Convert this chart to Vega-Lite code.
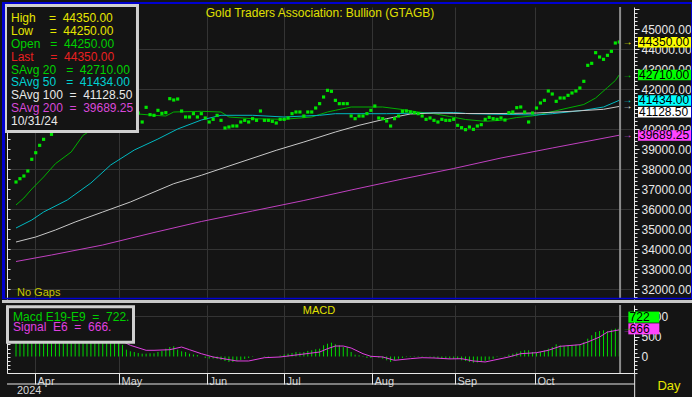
{
  "$schema": "https://vega.github.io/schema/vega-lite/v6.json",
  "background": "#141414",
  "padding": 0,
  "bounds": "flush",
  "spacing": 6,
  "resolve": {"scale": {"color": "independent", "fill": "independent", "stroke": "independent", "x": "independent", "y": "independent"}},
  "config": {
    "view": {"stroke": null},
    "font": "Liberation Sans",
    "axis": {"title": null, "gridColor": "#343434", "gridWidth": 1, "domainColor": "#e8e8e8", "tickColor": "#e8e8e8", "labelColor": "#e8e8e8", "labelFont": "Liberation Sans"},
    "text": {"font": "Liberation Sans"}
  },
  "datasets": {
    "price": [
      {"i":0,"v":37350},{"i":1,"v":37515},{"i":2,"v":37650},{"i":3,"v":37900},{"i":4,"v":38485},{"i":5,"v":38815},{"i":6,"v":39183},{"i":7,"v":39483},{"i":8,"v":39900},{"i":9,"v":39733},
      {"i":10,"v":40200},{"i":11,"v":40500},{"i":12,"v":40900},{"i":13,"v":41300},{"i":14,"v":41600},{"i":15,"v":41500},{"i":16,"v":41900},{"i":17,"v":41700},{"i":18,"v":41400},{"i":19,"v":41000},
      {"i":20,"v":41200},{"i":21,"v":40800},{"i":22,"v":41000},{"i":23,"v":41100},{"i":24,"v":40900},{"i":25,"v":40700},{"i":26,"v":40600},{"i":27,"v":40800},{"i":28,"v":40900},{"i":29,"v":41100},
      {"i":30,"v":41000},{"i":31,"v":40800},{"i":32,"v":40350},{"i":33,"v":41083},{"i":34,"v":40717},{"i":35,"v":40683},{"i":36,"v":40933},{"i":37,"v":40783},{"i":38,"v":40817},{"i":39,"v":41517},
      {"i":40,"v":41450},{"i":41,"v":41500},{"i":42,"v":40900},{"i":43,"v":40600},{"i":44,"v":40600},{"i":45,"v":40767},{"i":46,"v":40600},{"i":47,"v":40767},{"i":48,"v":40550},{"i":49,"v":40350},
      {"i":50,"v":40483},{"i":51,"v":40683},{"i":52,"v":40433},{"i":53,"v":40050},{"i":54,"v":40100},{"i":55,"v":40150},{"i":56,"v":40150},{"i":57,"v":40350},{"i":58,"v":40433},{"i":59,"v":40350},
      {"i":60,"v":40517},{"i":61,"v":40433},{"i":62,"v":40900},{"i":63,"v":40433},{"i":64,"v":40433},{"i":65,"v":40383},{"i":66,"v":40300},{"i":67,"v":40483},{"i":68,"v":40483},{"i":69,"v":40550},
      {"i":70,"v":40767},{"i":71,"v":40850},{"i":72,"v":40850},{"i":73,"v":40650},{"i":74,"v":40850},{"i":75,"v":40850},{"i":76,"v":41050},{"i":77,"v":41267},{"i":78,"v":41600},{"i":79,"v":41933},
      {"i":80,"v":41883},{"i":81,"v":41433},{"i":82,"v":41267},{"i":83,"v":41267},{"i":84,"v":41267},{"i":85,"v":40650},{"i":86,"v":40517},{"i":87,"v":40650},{"i":88,"v":40650},{"i":89,"v":40767},
      {"i":90,"v":40933},{"i":91,"v":41150},{"i":92,"v":40550},{"i":93,"v":40517},{"i":94,"v":40400},{"i":95,"v":40150},{"i":96,"v":40517},{"i":97,"v":40650},{"i":98,"v":40883},{"i":99,"v":40900},
      {"i":100,"v":40850},{"i":101,"v":40817},{"i":102,"v":40767},{"i":103,"v":40650},{"i":104,"v":40483},{"i":105,"v":40550},{"i":106,"v":40433},{"i":107,"v":40350},{"i":108,"v":40483},{"i":109,"v":40433},
      {"i":110,"v":40433},{"i":111,"v":40483},{"i":112,"v":40183},{"i":113,"v":40067},{"i":114,"v":39967},{"i":115,"v":40100},{"i":116,"v":39983},{"i":117,"v":40150},{"i":118,"v":40217},{"i":119,"v":40483},
      {"i":120,"v":40583},{"i":121,"v":40517},{"i":122,"v":40483},{"i":123,"v":40550},{"i":124,"v":40450},{"i":125,"v":40817},{"i":126,"v":40850},{"i":127,"v":41067},{"i":128,"v":41100},{"i":129,"v":40850},
      {"i":130,"v":40350},{"i":131,"v":40800},{"i":132,"v":41050},{"i":133,"v":41300},{"i":134,"v":41433},{"i":135,"v":41900},{"i":136,"v":41750},{"i":137,"v":41383},{"i":138,"v":41550},{"i":139,"v":41550},
      {"i":140,"v":41683},{"i":141,"v":41800},{"i":142,"v":41900},{"i":143,"v":42050},{"i":144,"v":42383},{"i":145,"v":43183},{"i":146,"v":43283},{"i":147,"v":43817},{"i":148,"v":43600},{"i":149,"v":43483},
      {"i":150,"v":43683},{"i":151,"v":43883},{"i":152,"v":44300},{"i":153,"v":44350}
    ],
    "ma": [
      {"s":"SAvg 20","i":0,"v":36200},{"s":"SAvg 20","i":2,"v":36550},{"s":"SAvg 20","i":4,"v":37000},{"s":"SAvg 20","i":7,"v":37600},{"s":"SAvg 20","i":10,"v":38265},{"s":"SAvg 20","i":14,"v":38850},{"s":"SAvg 20","i":17,"v":39685},{"s":"SAvg 20","i":20,"v":40050},{"s":"SAvg 20","i":22,"v":40300},{"s":"SAvg 20","i":25,"v":40550},{"s":"SAvg 20","i":28,"v":40700},{"s":"SAvg 20","i":31,"v":40750},{"s":"SAvg 20","i":35,"v":40685},{"s":"SAvg 20","i":38,"v":40650},{"s":"SAvg 20","i":40,"v":40850},{"s":"SAvg 20","i":47,"v":40885},{"s":"SAvg 20","i":52,"v":40850},{"s":"SAvg 20","i":54,"v":40600},{"s":"SAvg 20","i":60,"v":40515},{"s":"SAvg 20","i":68,"v":40485},{"s":"SAvg 20","i":75,"v":40600},{"s":"SAvg 20","i":79,"v":40850},{"s":"SAvg 20","i":81,"v":40935},{"s":"SAvg 20","i":85,"v":41100},{"s":"SAvg 20","i":93,"v":41100},{"s":"SAvg 20","i":98,"v":40975},{"s":"SAvg 20","i":102,"v":40850},{"s":"SAvg 20","i":106,"v":40765},{"s":"SAvg 20","i":110,"v":40625},{"s":"SAvg 20","i":114,"v":40475},{"s":"SAvg 20","i":119,"v":40385},{"s":"SAvg 20","i":123,"v":40435},{"s":"SAvg 20","i":127,"v":40575},{"s":"SAvg 20","i":131,"v":40650},{"s":"SAvg 20","i":135,"v":40825},{"s":"SAvg 20","i":140,"v":41050},{"s":"SAvg 20","i":144,"v":41225},{"s":"SAvg 20","i":147,"v":41550},{"s":"SAvg 20","i":150,"v":42075},{"s":"SAvg 20","i":152,"v":42425},{"s":"SAvg 20","i":153,"v":42710},
      {"s":"SAvg 50","i":0,"v":35050},{"s":"SAvg 50","i":4,"v":35450},{"s":"SAvg 50","i":7,"v":35850},{"s":"SAvg 50","i":13,"v":36450},{"s":"SAvg 50","i":19,"v":37300},{"s":"SAvg 50","i":24,"v":38200},{"s":"SAvg 50","i":30,"v":38950},{"s":"SAvg 50","i":36,"v":39500},{"s":"SAvg 50","i":41,"v":40000},{"s":"SAvg 50","i":47,"v":40450},{"s":"SAvg 50","i":52,"v":40685},{"s":"SAvg 50","i":60,"v":40685},{"s":"SAvg 50","i":68,"v":40600},{"s":"SAvg 50","i":77,"v":40685},{"s":"SAvg 50","i":81,"v":40765},{"s":"SAvg 50","i":94,"v":40765},{"s":"SAvg 50","i":111,"v":40825},{"s":"SAvg 50","i":115,"v":40765},{"s":"SAvg 50","i":132,"v":40700},{"s":"SAvg 50","i":136,"v":40765},{"s":"SAvg 50","i":140,"v":40850},{"s":"SAvg 50","i":144,"v":40935},{"s":"SAvg 50","i":149,"v":41100},{"s":"SAvg 50","i":153,"v":41434},
      {"s":"SAvg 100","i":0,"v":34350},{"s":"SAvg 100","i":5,"v":34600},{"s":"SAvg 100","i":10,"v":34950},{"s":"SAvg 100","i":15,"v":35350},{"s":"SAvg 100","i":22,"v":35850},{"s":"SAvg 100","i":29,"v":36350},{"s":"SAvg 100","i":35,"v":36850},{"s":"SAvg 100","i":40,"v":37265},{"s":"SAvg 100","i":47,"v":37685},{"s":"SAvg 100","i":52,"v":38015},{"s":"SAvg 100","i":66,"v":38935},{"s":"SAvg 100","i":73,"v":39350},{"s":"SAvg 100","i":81,"v":39850},{"s":"SAvg 100","i":87,"v":40185},{"s":"SAvg 100","i":94,"v":40515},{"s":"SAvg 100","i":100,"v":40750},{"s":"SAvg 100","i":106,"v":40800},{"s":"SAvg 100","i":114,"v":40775},{"s":"SAvg 100","i":123,"v":40775},{"s":"SAvg 100","i":132,"v":40800},{"s":"SAvg 100","i":140,"v":40875},{"s":"SAvg 100","i":149,"v":40985},{"s":"SAvg 100","i":153,"v":41128.5},
      {"s":"SAvg 200","i":0,"v":33375},{"s":"SAvg 200","i":9,"v":33700},{"s":"SAvg 200","i":22,"v":34200},{"s":"SAvg 200","i":35,"v":34825},{"s":"SAvg 200","i":47,"v":35375},{"s":"SAvg 200","i":60,"v":35900},{"s":"SAvg 200","i":73,"v":36425},{"s":"SAvg 200","i":85,"v":36950},{"s":"SAvg 200","i":98,"v":37500},{"s":"SAvg 200","i":111,"v":38025},{"s":"SAvg 200","i":123,"v":38550},{"s":"SAvg 200","i":136,"v":39050},{"s":"SAvg 200","i":153,"v":39689.25}
    ],
    "legend": [
      {"s":"High","t":"High\u00a0\u00a0\u00a0\u00a0=\u00a0\u00a044350.00"},
      {"s":"Low","t":"Low\u00a0\u00a0\u00a0\u00a0\u00a0=\u00a0\u00a044250.00"},
      {"s":"Open","t":"Open\u00a0\u00a0\u00a0=\u00a0\u00a044250.00"},
      {"s":"Last","t":"Last\u00a0\u00a0\u00a0\u00a0\u00a0=\u00a0\u00a044350.00"},
      {"s":"SAvg 20","t":"SAvg\u00a020\u00a0\u00a0\u00a0=\u00a0\u00a042710.00"},
      {"s":"SAvg 50","t":"SAvg\u00a050\u00a0\u00a0\u00a0=\u00a0\u00a041434.00"},
      {"s":"SAvg 100","t":"SAvg\u00a0100\u00a0\u00a0=\u00a0\u00a041128.50"},
      {"s":"SAvg 200","t":"SAvg\u00a0200\u00a0\u00a0=\u00a0\u00a039689.25"},
      {"s":"Date","t":"10/31/24"}
    ],
    "boxes": [
      {"s":"Price","v":44350,"t":"44350.00"},
      {"s":"SAvg 20","v":42710,"t":"42710.00"},
      {"s":"SAvg 50","v":41434,"t":"41434.00"},
      {"s":"SAvg 100","v":41128.5,"t":"41128.50"},
      {"s":"SAvg 200","v":39689.25,"t":"39689.25"}
    ],
    "macd": [
      {"i":0,"m":420},{"i":1,"m":470},{"i":2,"m":520},{"i":3,"m":580},{"i":4,"m":650},{"i":5,"m":720},{"i":6,"m":790},{"i":7,"m":850},{"i":8,"m":900},{"i":9,"m":930},
      {"i":10,"m":960},{"i":11,"m":990},{"i":12,"m":1010},{"i":13,"m":1030},{"i":14,"m":1020},{"i":15,"m":990},{"i":16,"m":960},{"i":17,"m":920},{"i":18,"m":870},{"i":19,"m":820},
      {"i":20,"m":760},{"i":21,"m":700},{"i":22,"m":640},{"i":23,"m":570},{"i":24,"m":500},{"i":25,"m":430},{"i":26,"m":360},{"i":27,"m":290},{"i":28,"m":170},{"i":29,"m":130},
      {"i":30,"m":112},{"i":31,"m":87},{"i":32,"m":70},{"i":33,"m":70},{"i":34,"m":80},{"i":35,"m":80},{"i":36,"m":112},{"i":37,"m":137},{"i":38,"m":195},{"i":39,"m":237},
      {"i":40,"m":255},{"i":41,"m":170},{"i":42,"m":130},{"i":43,"m":112},{"i":44,"m":70},{"i":45,"m":50},{"i":46,"m":37},{"i":47,"m":0},{"i":48,"m":-37},{"i":49,"m":-50},
      {"i":50,"m":-50},{"i":51,"m":-62},{"i":52,"m":-87},{"i":53,"m":-112},{"i":54,"m":-137},{"i":55,"m":-137},{"i":56,"m":-112},{"i":57,"m":-87},{"i":58,"m":-62},{"i":59,"m":-37},
      {"i":60,"m":-12},{"i":61,"m":0},{"i":62,"m":0},{"i":63,"m":-12},{"i":64,"m":-12},{"i":65,"m":0},{"i":66,"m":0},{"i":67,"m":25},{"i":68,"m":50},{"i":69,"m":70},
      {"i":70,"m":87},{"i":71,"m":112},{"i":72,"m":100},{"i":73,"m":112},{"i":74,"m":140},{"i":75,"m":155},{"i":76,"m":180},{"i":77,"m":195},{"i":78,"m":280},{"i":79,"m":320},
      {"i":80,"m":345},{"i":81,"m":305},{"i":82,"m":280},{"i":83,"m":237},{"i":84,"m":237},{"i":85,"m":112},{"i":86,"m":45},{"i":87,"m":30},{"i":88,"m":-12},{"i":89,"m":-37},
      {"i":90,"m":-37},{"i":91,"m":12},{"i":92,"m":-30},{"i":93,"m":-55},{"i":94,"m":-95},{"i":95,"m":-137},{"i":96,"m":-95},{"i":97,"m":-55},{"i":98,"m":-37},{"i":99,"m":-12},
      {"i":100,"m":12},{"i":101,"m":-12},{"i":102,"m":-12},{"i":103,"m":-12},{"i":104,"m":5},{"i":105,"m":-12},{"i":106,"m":-30},{"i":107,"m":-37},{"i":108,"m":-55},{"i":109,"m":-55},
      {"i":110,"m":-55},{"i":111,"m":-55},{"i":112,"m":-60},{"i":113,"m":-95},{"i":114,"m":-110},{"i":115,"m":-137},{"i":116,"m":-155},{"i":117,"m":-150},{"i":118,"m":-137},{"i":119,"m":-110},
      {"i":120,"m":-80},{"i":121,"m":-55},{"i":122,"m":-12},{"i":123,"m":5},{"i":124,"m":12},{"i":125,"m":45},{"i":126,"m":70},{"i":127,"m":95},{"i":128,"m":130},{"i":129,"m":155},
      {"i":130,"m":155},{"i":131,"m":112},{"i":132,"m":95},{"i":133,"m":112},{"i":134,"m":155},{"i":135,"m":195},{"i":136,"m":237},{"i":137,"m":305},{"i":138,"m":280},{"i":139,"m":262},
      {"i":140,"m":280},{"i":141,"m":285},{"i":142,"m":295},{"i":143,"m":305},{"i":144,"m":362},{"i":145,"m":445},{"i":146,"m":530},{"i":147,"m":612},{"i":148,"m":637},{"i":149,"m":655},
      {"i":150,"m":630},{"i":151,"m":670},{"i":152,"m":695},{"i":153,"m":722}
    ],
    "signal": [
      {"i":0,"g":350},{"i":5,"g":560},{"i":10,"g":760},{"i":15,"g":880},{"i":20,"g":780},{"i":25,"g":480},{"i":29,"g":280},{"i":33,"g":155},{"i":35,"g":155},{"i":39,"g":170},
      {"i":42,"g":237},{"i":44,"g":170},{"i":47,"g":70},{"i":50,"g":-12},{"i":56,"g":-112},{"i":59,"g":-112},{"i":63,"g":-30},{"i":67,"g":-12},{"i":72,"g":50},{"i":77,"g":112},
      {"i":79,"g":195},{"i":81,"g":262},{"i":83,"g":262},{"i":85,"g":212},{"i":88,"g":70},{"i":90,"g":5},{"i":93,"g":-12},{"i":96,"g":-95},{"i":100,"g":-55},{"i":103,"g":-30},
      {"i":106,"g":-37},{"i":110,"g":-60},{"i":113,"g":-55},{"i":116,"g":-112},{"i":119,"g":-137},{"i":121,"g":-95},{"i":125,"g":-12},{"i":128,"g":70},{"i":132,"g":95},{"i":135,"g":155},
      {"i":138,"g":255},{"i":143,"g":295},{"i":145,"g":362},{"i":148,"g":487},{"i":150,"g":612},{"i":153,"g":666}
    ],
    "mlegend": [
      {"s":"Macd","t":"Macd\u00a0E19-E9\u00a0\u00a0=\u00a0\u00a0722."},
      {"s":"Signal","t":"Signal\u00a0\u00a0E6\u00a0\u00a0=\u00a0\u00a0666."}
    ],
    "mboxes": [
      {"s":"Macd","v":722,"t":"722"},
      {"s":"Signal","v":666,"t":"666"}
    ]
  },
  "vconcat": [
    {
      "width": 627,
      "height": 292,
      "resolve": {"axis": {"y": "independent", "x": "independent"}},
      "layer": [
        {
          "data": {"name": "ma"},
          "mark": {"type": "line", "strokeWidth": 1},
          "encoding": {
            "x": {"field": "i", "type": "quantitative", "scale": {"domain": [-2.2825, 156.73], "nice": false, "zero": false},
              "axis": {"orient": "bottom", "values": [4.82, 26.12, 48.44, 67.97, 90.29, 111.34, 131.63], "labels": false, "ticks": false, "domain": false, "grid": true}},
            "y": {"field": "v", "type": "quantitative", "scale": {"domain": [31500, 46100], "nice": false, "zero": false},
              "axis": {"orient": "left", "labels": false, "grid": false, "tickSize": -3, "values": [32000,32500,33000,33500,34000,34500,35000,35500,36000,36500,37000,37500,38000,38500,39000,39500,40000,40500,41000,41500,42000,42500,43000,43500,44000,44500,45000,45500,46000]}},
            "stroke": {"field": "s", "type": "nominal", "scale": {"domain": ["SAvg 20", "SAvg 50", "SAvg 100", "SAvg 200"], "range": ["#00b000", "#00b8c0", "#c8c8c8", "#c040c0"]}, "legend": null}
          }
        },
        {
          "data": {"name": "price"},
          "mark": {"type": "square", "size": 10, "filled": true, "color": "#00e600", "opacity": 1},
          "encoding": {
            "x": {"field": "i", "type": "quantitative", "axis": null},
            "y": {"field": "v", "type": "quantitative",
              "axis": {"orient": "right", "values": [31600,31800,32000,32200,32400,32600,32800,33000,33200,33400,33600,33800,34000,34200,34400,34600,34800,35000,35200,35400,35600,35800,36000,36200,36400,36600,36800,37000,37200,37400,37600,37800,38000,38200,38400,38600,38800,39000,39200,39400,39600,39800,40000,40200,40400,40600,40800,41000,41200,41400,41600,41800,42000,42200,42400,42600,42800,43000,43200,43400,43600,43800,44000,44200,44400,44600,44800,45000,45200,45400,45600,45800,46000],
                "labelExpr": "datum.value % 1000 == 0 && datum.value < 46000 && datum.value != 41000 ? format(datum.value, '.2f') : ''", "labelOverlap": false, "labelFontSize": 12, "labelPadding": 2,
                "tickSize": {"condition": {"test": "datum.value % 1000 == 0", "value": 5}, "value": 3},
                "grid": true, "gridOpacity": {"condition": {"test": "datum.value % 2000 == 0 && datum.value < 46000", "value": 1}, "value": 0}}}
          }
        },
        {
          "data": {"values": [{}]},
          "mark": {"type": "rule", "color": "#8c8c8c", "strokeWidth": 2},
          "encoding": {"x": {"datum": 153.2, "type": "quantitative", "axis": null}, "y": {"datum": 46100, "type": "quantitative", "axis": null}, "y2": {"datum": 31500}}
        },
        {
          "data": {"values": [{}]},
          "mark": {"type": "rect", "fill": "#141414", "stroke": "#d0d0d0", "strokeWidth": 3, "clip": false},
          "encoding": {"x": {"datum": -2.663, "type": "quantitative", "axis": null}, "x2": {"datum": 30.81}, "y": {"datum": 46175, "type": "quantitative", "axis": null}, "y2": {"datum": 39875}}
        },
        {
          "data": {"name": "legend"},
          "transform": [{"window": [{"op": "row_number", "as": "k"}]}],
          "mark": {"type": "text", "align": "left", "baseline": "middle", "fontSize": 12, "clip": false, "yOffset": {"expr": "(datum.k - 1) * 12.95"}},
          "encoding": {
            "x": {"datum": -1.268, "type": "quantitative", "axis": null},
            "y": {"datum": 45565, "type": "quantitative", "axis": null},
            "text": {"field": "t"},
            "color": {"field": "s", "type": "nominal", "scale": {"domain": ["High", "Low", "Open", "Last", "SAvg 20", "SAvg 50", "SAvg 100", "SAvg 200", "Date", "Price"], "range": ["#e6e600", "#e6e600", "#00d000", "#e82020", "#00d000", "#00d0d0", "#e8e8e8", "#d848d8", "#e8e8e8", "#f0f000"]}, "legend": null}
          }
        },
        {
          "data": {"values": [{"t": "Gold Traders Association: Bullion (GTAGB)"}]},
          "mark": {"type": "text", "align": "center", "baseline": "middle", "fontSize": 12, "color": "#e0e000", "clip": false},
          "encoding": {"x": {"datum": 77.1, "type": "quantitative", "axis": null}, "y": {"datum": 45800, "type": "quantitative", "axis": null}, "text": {"field": "t"}}
        },
        {
          "data": {"values": [{"t": "No Gaps"}]},
          "mark": {"type": "text", "align": "left", "baseline": "middle", "fontSize": 11, "color": "#c8c800", "clip": false},
          "encoding": {"x": {"datum": 0.254, "type": "quantitative", "axis": null}, "y": {"datum": 31800, "type": "quantitative", "axis": null}, "text": {"field": "t"}}
        },
        {
          "data": {"values": [{}]},
          "mark": {"type": "rule", "color": "#0000d0", "strokeWidth": 2, "clip": false},
          "encoding": {"x": {"datum": -3.551, "type": "quantitative", "axis": null}, "x2": {"datum": 171.95}, "y": {"datum": 46300, "type": "quantitative", "axis": null}}
        },
        {
          "data": {"values": [{}]},
          "mark": {"type": "rule", "color": "#0000d0", "strokeWidth": 3, "clip": false},
          "encoding": {"x": {"datum": -3.17, "type": "quantitative", "axis": null}, "y": {"datum": 46350, "type": "quantitative", "axis": null}, "y2": {"datum": 31500}}
        },
        {
          "data": {"values": [{}]},
          "mark": {"type": "rule", "color": "#0000d0", "strokeWidth": 3, "clip": false},
          "encoding": {"x": {"datum": 171.57, "type": "quantitative", "axis": null}, "y": {"datum": 46350, "type": "quantitative", "axis": null}, "y2": {"datum": 31500}}
        },
        {
          "data": {"values": [{}]},
          "mark": {"type": "rule", "color": "#0000d0", "strokeWidth": 1.5, "clip": false},
          "encoding": {"x": {"datum": -3.551, "type": "quantitative", "axis": null}, "x2": {"datum": 171.95}, "y": {"datum": 31525, "type": "quantitative", "axis": null}}
        },
        {
          "data": {"values": [{}]},
          "mark": {"type": "rule", "color": "#c8c8c8", "strokeWidth": 3, "clip": false},
          "encoding": {"x": {"datum": -3.551, "type": "quantitative", "axis": null}, "x2": {"datum": 171.95}, "y": {"datum": 31375, "type": "quantitative", "axis": null}}
        },
        {
          "data": {"name": "boxes"},
          "mark": {"type": "rect", "clip": false, "yOffset": {"expr": "datum.s == 'SAvg 100' ? 0.5 : -5"}, "y2Offset": {"expr": "datum.s == 'SAvg 100' ? 11 : 5.5"}},
          "encoding": {
            "x": {"datum": 157.75, "type": "quantitative", "axis": null}, "x2": {"datum": 171.19},
            "y": {"field": "v", "type": "quantitative", "axis": null}, "y2": {"field": "v"},
            "fill": {"field": "s", "type": "nominal", "scale": {"domain": ["Price", "SAvg 20", "SAvg 50", "SAvg 100", "SAvg 200"], "range": ["#ffff00", "#00ff00", "#00ffff", "#ffffff", "#ff44ff"]}, "legend": null}
          }
        },
        {
          "data": {"name": "boxes"},
          "mark": {"type": "text", "align": "left", "baseline": "middle", "fontSize": 12, "color": "#000000", "clip": false, "yOffset": {"expr": "datum.s == 'SAvg 100' ? 5.5 : 0"}},
          "encoding": {"x": {"datum": 158.0, "type": "quantitative", "axis": null}, "y": {"field": "v", "type": "quantitative", "axis": null}, "text": {"field": "t"}}
        },
        {
          "data": {"name": "boxes"},
          "mark": {"type": "text", "align": "center", "baseline": "middle", "fontSize": 10, "clip": false},
          "encoding": {"x": {"datum": 155.1, "type": "quantitative", "axis": null}, "y": {"field": "v", "type": "quantitative", "axis": null}, "text": {"value": "→"}, "color": {"field": "s", "type": "nominal", "legend": null}}
        }
      ]
    },
    {
      "width": 627,
      "height": 68,
      "resolve": {"axis": {"y": "independent", "x": "independent"}},
      "layer": [
        {
          "data": {"name": "macd"},
          "mark": {"type": "rule", "color": "#00d800", "strokeWidth": 1},
          "encoding": {
            "x": {"field": "i", "type": "quantitative", "scale": {"domain": [-2.2825, 156.73], "nice": false, "zero": false},
              "axis": {"orient": "bottom", "values": [4.82, 26.12, 48.44, 67.97, 90.29, 111.34, 131.63],
                "labelExpr": "datum.value < 10 ? 'Apr' : datum.value < 30 ? 'May' : datum.value < 50 ? 'Jun' : datum.value < 70 ? 'Jul' : datum.value < 100 ? 'Aug' : datum.value < 120 ? 'Sep' : 'Oct'",
                "tickSize": 11, "labelAlign": "left", "labelBaseline": "top", "labelPadding": -9, "labelOffset": 2, "labelFontSize": 11, "labelColor": "#d8d8d8", "labelFlush": false, "labelOverlap": false, "grid": true}},
            "y": {"field": "m", "type": "quantitative", "scale": {"domain": [-412.5, 1287.5], "nice": false, "zero": false},
              "axis": {"orient": "right", "values": [-400,-300,-200,-100,0,100,200,300,400,500,600,700,800,900,1000,1100,1200],
                "labelExpr": "datum.value % 500 == 0 ? format(datum.value, 'd') : ''", "labelOverlap": false, "labelFontSize": 12, "labelPadding": 2,
                "tickSize": {"condition": {"test": "datum.value % 500 == 0", "value": 5}, "value": 3},
                "grid": true, "gridOpacity": {"condition": {"test": "datum.value == 1000", "value": 1}, "value": 0}}},
            "y2": {"datum": 0}
          }
        },
        {
          "data": {"name": "signal"},
          "mark": {"type": "line", "color": "#e040e0", "strokeWidth": 1},
          "encoding": {
            "x": {"field": "i", "type": "quantitative", "axis": null},
            "y": {"field": "g", "type": "quantitative", "axis": {"orient": "left", "labels": false, "grid": false, "tickSize": -3, "values": [-400,-300,-200,-100,0,100,200,300,400,500,600,700,800,900,1000,1100,1200]}}
          }
        },
        {
          "data": {"values": [{}]},
          "mark": {"type": "rule", "color": "#8c8c8c", "strokeWidth": 2},
          "encoding": {"x": {"datum": 153.2, "type": "quantitative", "axis": null}, "y": {"datum": 1287.5, "type": "quantitative", "axis": null}, "y2": {"datum": -412.5}}
        },
        {
          "data": {"values": [{}]},
          "mark": {"type": "rect", "fill": "#141414", "stroke": "#d0d0d0", "strokeWidth": 3, "clip": false},
          "encoding": {"x": {"datum": -2.156, "type": "quantitative", "axis": null}, "x2": {"datum": 29.8}, "y": {"datum": 1242.5, "type": "quantitative", "axis": null}, "y2": {"datum": 357.5}}
        },
        {
          "data": {"name": "mlegend"},
          "transform": [{"window": [{"op": "row_number", "as": "k"}]}],
          "mark": {"type": "text", "align": "left", "baseline": "middle", "fontSize": 12, "clip": false, "yOffset": {"expr": "(datum.k - 1) * 10.3"}},
          "encoding": {
            "x": {"datum": -0.76, "type": "quantitative", "axis": null},
            "y": {"datum": 987.5, "type": "quantitative", "axis": null},
            "text": {"field": "t"},
            "color": {"field": "s", "type": "nominal", "scale": {"domain": ["Macd", "Signal"], "range": ["#00d000", "#e040e0"]}, "legend": null}
          }
        },
        {
          "data": {"values": [{"t": "MACD"}]},
          "mark": {"type": "text", "align": "center", "baseline": "middle", "fontSize": 11, "color": "#e0e000", "clip": false},
          "encoding": {"x": {"datum": 76.84, "type": "quantitative", "axis": null}, "y": {"datum": 1130, "type": "quantitative", "axis": null}, "text": {"field": "t"}}
        },
        {
          "data": {"name": "mboxes"},
          "mark": {"type": "rect", "clip": false, "yOffset": {"expr": "datum.s == 'Macd' ? -16 : -6.5"}, "y2Offset": {"expr": "datum.s == 'Macd' ? -5 : 4.5"}},
          "encoding": {
            "x": {"datum": 155.3, "type": "quantitative", "axis": null}, "x2": {"datum": 163.15},
            "y": {"field": "v", "type": "quantitative", "axis": null}, "y2": {"field": "v"},
            "fill": {"field": "s", "type": "nominal", "scale": {"domain": ["Macd", "Signal"], "range": ["#00ff00", "#ff44ff"]}, "legend": null}
          }
        },
        {
          "data": {"name": "mboxes"},
          "mark": {"type": "text", "align": "left", "baseline": "middle", "fontSize": 12, "color": "#000000", "clip": false, "yOffset": {"expr": "datum.s == 'Macd' ? -10.6 : -1"}},
          "encoding": {"x": {"datum": 155.6, "type": "quantitative", "axis": null}, "y": {"field": "v", "type": "quantitative", "axis": null}, "text": {"field": "t"}}
        },
        {
          "data": {"name": "mboxes"},
          "mark": {"type": "text", "align": "center", "baseline": "middle", "fontSize": 10, "clip": false},
          "encoding": {"x": {"datum": 155.1, "type": "quantitative", "axis": null}, "y": {"field": "v", "type": "quantitative", "axis": null}, "text": {"value": "→"}, "color": {"field": "s", "type": "nominal", "legend": null}}
        },
        {
          "data": {"values": [{}]},
          "mark": {"type": "rule", "color": "#e8e8e8", "strokeWidth": 1, "clip": false},
          "encoding": {"x": {"datum": -2.2825, "type": "quantitative", "axis": null}, "x2": {"datum": 156.9}, "y": {"datum": -687.5, "type": "quantitative", "axis": null}}
        },
        {
          "data": {"values": [{}]},
          "mark": {"type": "rule", "color": "#e8e8e8", "strokeWidth": 1, "clip": false},
          "encoding": {"x": {"datum": 156.9, "type": "quantitative", "axis": null}, "y": {"datum": -412.5, "type": "quantitative", "axis": null}, "y2": {"datum": -1037.5}}
        },
        {
          "data": {"values": [{}]},
          "mark": {"type": "rule", "color": "#a0a0a0", "strokeWidth": 1.5, "clip": false},
          "encoding": {"x": {"datum": -3.551, "type": "quantitative", "axis": null}, "x2": {"datum": 171.95}, "y": {"datum": -1050, "type": "quantitative", "axis": null}}
        },
        {
          "data": {"values": [{"t": "2024"}]},
          "mark": {"type": "text", "align": "left", "baseline": "middle", "fontSize": 11, "color": "#d8d8d8", "clip": false},
          "encoding": {"x": {"datum": 0.254, "type": "quantitative", "axis": null}, "y": {"datum": -862.5, "type": "quantitative", "axis": null}, "text": {"field": "t"}}
        },
        {
          "data": {"values": [{"t": "Day"}]},
          "mark": {"type": "text", "align": "center", "baseline": "middle", "fontSize": 13, "color": "#e6e600", "clip": false},
          "encoding": {"x": {"datum": 165.6, "type": "quantitative", "axis": null}, "y": {"datum": -725, "type": "quantitative", "axis": null}, "text": {"field": "t"}}
        }
      ]
    }
  ]
}
